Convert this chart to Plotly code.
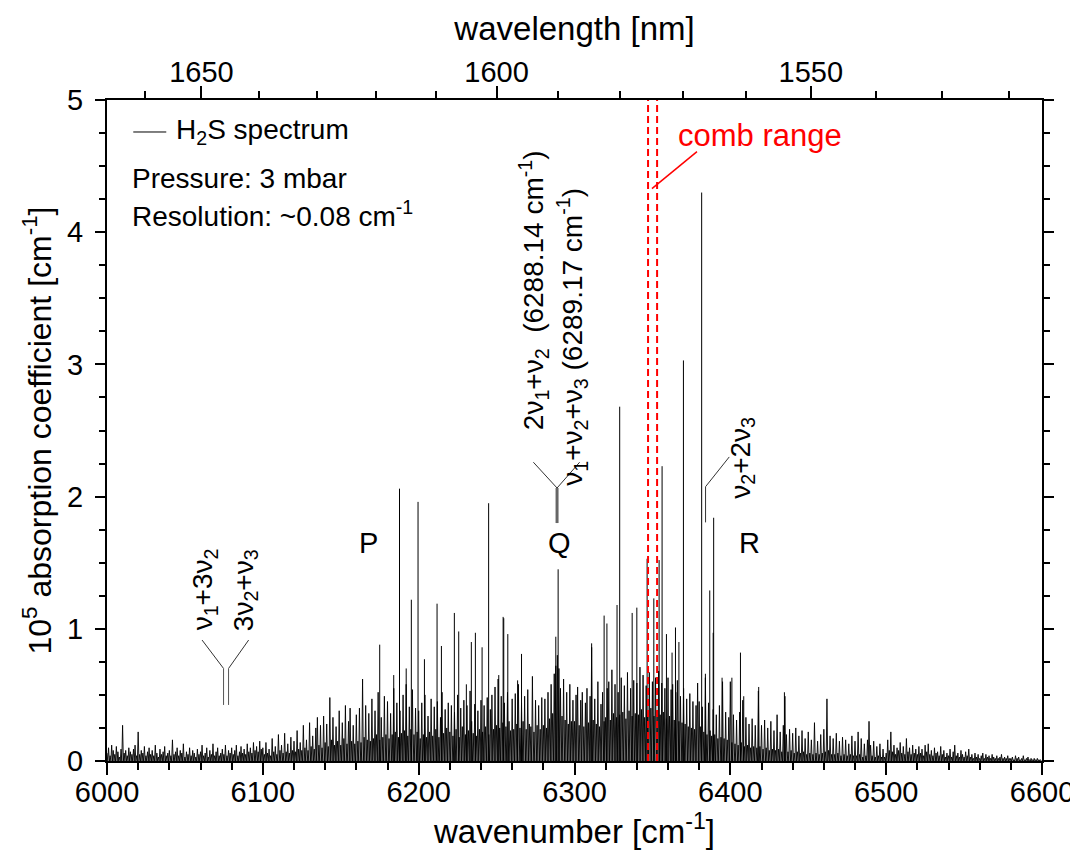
import plotly.graph_objects as go

# ---------------- data ----------------
# background line intensities on a 1 cm^-1 grid, 6000 ... 6599 cm^-1 (10^5 absorption coefficient, cm^-1)
bg_start = 6000
bg_rows = [
    [0.06,0.10,0.04,0.12,0.08,0.05,0.11,0.07,0.03,0.09,0.27,0.06,0.08,0.04,0.10,0.07,0.05,0.09,0.12,0.04],
    [0.22,0.05,0.08,0.06,0.11,0.04,0.07,0.10,0.05,0.08,0.04,0.12,0.06,0.03,0.09,0.05,0.07,0.11,0.04,0.06],
    [0.08,0.04,0.16,0.05,0.07,0.10,0.04,0.08,0.06,0.13,0.03,0.07,0.05,0.10,0.04,0.08,0.06,0.03,0.09,0.05],
    [0.07,0.12,0.04,0.06,0.10,0.03,0.08,0.05,0.13,0.04,0.07,0.10,0.04,0.06,0.09,0.05,0.12,0.04,0.08,0.06],
    [0.10,0.05,0.08,0.12,0.04,0.07,0.11,0.06,0.09,0.05,0.13,0.07,0.10,0.06,0.14,0.08,0.11,0.07,0.15,0.09],
    [0.10,0.05,0.14,0.06,0.09,0.04,0.17,0.07,0.11,0.05,0.20,0.08,0.12,0.06,0.21,0.07,0.13,0.06,0.18,0.08],
    [0.15,0.07,0.23,0.09,0.14,0.08,0.27,0.10,0.16,0.08,0.29,0.11,0.19,0.09,0.25,0.33,0.12,0.27,0.10,0.34],
    [0.14,0.28,0.11,0.48,0.16,0.33,0.12,0.26,0.15,0.38,0.12,0.29,0.17,0.42,0.13,0.30,0.40,0.15,0.27,0.13],
    [0.35,0.15,0.40,0.14,0.62,0.18,0.42,0.16,0.36,0.15,0.47,0.17,0.38,0.20,0.52,0.16,0.33,0.18,0.49,0.20],
    [0.45,0.17,0.36,0.20,0.55,0.22,0.44,0.18,0.38,0.21,0.50,0.23,0.58,0.19,0.41,0.24,0.54,0.20,0.40,0.22],
    [0.38,0.17,0.44,0.20,0.50,0.18,0.34,0.22,0.47,0.19,0.41,0.24,0.45,0.18,0.33,0.52,0.21,0.39,0.25,0.44],
    [0.22,0.42,0.19,0.37,0.24,0.50,0.18,0.40,0.26,0.46,0.20,0.42,0.23,0.53,0.30,0.21,0.43,0.19,0.38,0.24],
    [0.46,0.22,0.42,0.26,0.48,0.20,0.39,0.50,0.24,0.56,0.27,0.62,0.25,0.49,0.29,0.44,0.26,0.52,0.30,0.23],
    [0.47,0.24,0.51,0.28,0.58,0.25,0.44,0.30,0.49,0.24,0.54,0.28,0.26,0.64,0.22,0.46,0.27,0.42,0.24,0.48],
    [0.27,0.47,0.25,0.52,0.32,0.58,0.36,0.66,0.72,0.80,0.70,0.55,0.34,0.62,0.31,0.52,0.28,0.58,0.30,0.46],
    [0.30,0.50,0.56,0.27,0.46,0.52,0.26,0.44,0.55,0.29,0.49,0.86,0.31,0.47,0.28,0.60,0.26,0.43,0.52,0.30],
    [0.33,0.55,0.60,0.31,0.69,0.36,0.58,0.33,0.52,0.35,0.63,0.37,0.57,0.32,0.67,0.38,0.55,0.34,0.61,0.36],
    [0.59,0.35,0.71,0.39,0.65,0.33,0.57,0.37,0.67,0.40,0.60,0.34,0.63,0.38,0.68,0.35,0.59,0.37,0.55,0.32],
    [0.63,0.34,0.54,0.58,0.31,0.52,0.61,0.30,0.49,0.29,0.55,0.28,0.47,0.26,0.51,0.25,0.45,0.24,0.42,0.59],
    [0.45,0.26,0.41,0.22,0.63,0.20,0.44,0.23,0.19,0.39,0.20,0.35,0.17,0.42,0.18,0.60,0.17,0.37,0.16,0.33],
    [0.60,0.14,0.35,0.13,0.31,0.12,0.37,0.14,0.46,0.11,0.33,0.12,0.28,0.10,0.32,0.11,0.27,0.10,0.53,0.11],
    [0.27,0.09,0.31,0.10,0.25,0.08,0.30,0.09,0.23,0.08,0.35,0.09,0.22,0.07,0.27,0.49,0.20,0.07,0.24,0.08],
    [0.21,0.06,0.25,0.07,0.19,0.06,0.23,0.07,0.17,0.05,0.22,0.06,0.16,0.05,0.29,0.06,0.15,0.05,0.20,0.06],
    [0.24,0.07,0.47,0.08,0.19,0.05,0.17,0.05,0.21,0.06,0.15,0.04,0.18,0.05,0.16,0.04,0.13,0.05,0.19,0.04],
    [0.15,0.04,0.22,0.05,0.17,0.03,0.13,0.04,0.16,0.30,0.12,0.04,0.15,0.03,0.11,0.04,0.13,0.03,0.09,0.03],
    [0.06,0.16,0.08,0.22,0.07,0.12,0.05,0.10,0.08,0.14,0.06,0.11,0.05,0.17,0.07,0.10,0.05,0.12,0.06,0.09],
    [0.05,0.11,0.06,0.09,0.04,0.12,0.07,0.13,0.05,0.08,0.04,0.10,0.06,0.07,0.04,0.11,0.05,0.08,0.03,0.06],
    [0.04,0.09,0.03,0.07,0.12,0.04,0.06,0.03,0.08,0.05,0.03,0.07,0.04,0.09,0.03,0.05,0.02,0.06,0.03,0.05],
    [0.02,0.04,0.06,0.02,0.05,0.03,0.04,0.02,0.05,0.03,0.02,0.04,0.02,0.03,0.05,0.02,0.03,0.02,0.04,0.02],
    [0.02,0.03,0.01,0.04,0.02,0.03,0.01,0.02,0.04,0.01,0.02,0.03,0.01,0.02,0.01,0.02,0.01,0.02,0.01,0.01],
]

# strong individual lines
strong_nu = [6175.0, 6184.0, 6187.7, 6192.0, 6195.3, 6199.6, 6203.7, 6211.8, 6214.6, 6222.9,
             6225.7, 6230.6, 6233.8, 6236.4, 6240.7, 6244.9, 6251.4, 6254.2, 6254.6, 6257.2,
             6263.5, 6266.0, 6288.0, 6289.5, 6311.0, 6319.0, 6320.8, 6327.3, 6329.0, 6337.0,
             6340.0, 6346.6, 6350.9, 6354.3, 6356.2, 6359.0, 6362.6, 6364.8, 6367.0, 6369.9,
             6381.6, 6384.0, 6386.8, 6389.0, 6389.3, 6394.7, 6401.0, 6406.5, 6408.6, 6418.2, 6434.7]
strong_h = [0.88, 0.65, 2.06, 0.70, 1.22, 1.96, 0.77, 1.19, 0.87, 1.12,
            0.98, 0.58, 0.90, 0.97, 0.86, 1.95, 0.65, 1.09, 1.08, 0.96,
            0.61, 0.81, 0.94, 1.45, 0.89, 1.10, 1.04, 1.18, 2.68, 1.12,
            1.16, 1.53, 1.23, 1.52, 2.23, 0.96, 0.82, 1.01, 0.90, 3.03,
            4.30, 0.66, 1.29, 0.97, 1.84, 0.63, 0.63, 0.82, 0.49, 0.56, 0.52]

comb_range = [6347.2, 6353.0]          # cm^-1
wl_major = [1650, 1600, 1550]          # nm, top axis labels
wl_minor = [1660, 1640, 1630, 1620, 1610, 1590, 1580, 1570, 1560, 1540, 1530, 1520]

# ---------------- build traces ----------------
FONT = "Liberation Sans, Arial, sans-serif"

zx, zy = [], []
i = 0
for row in bg_rows:
    for h in row:
        nu = bg_start + i
        zx += [nu, nu + 0.5]
        zy += [h, 0.0]
        i += 1

sx, sy = [], []
for nu, h in zip(strong_nu, strong_h):
    sx += [nu, nu, None]
    sy += [0.0, h, None]

fig = go.Figure()
fig.add_trace(go.Scatter(x=zx, y=zy, mode="lines", name="H2S spectrum",
                         line=dict(color="black", width=0.9, simplify=False),
                         hoverinfo="skip", showlegend=False))
fig.add_trace(go.Scatter(x=sx, y=sy, mode="lines", line=dict(color="black", width=1),
                         hoverinfo="skip", showlegend=False))
# dummy trace for the top (wavelength) axis
fig.add_trace(go.Scatter(x=[6000], y=[0], xaxis="x2", mode="markers",
                         marker=dict(opacity=0), showlegend=False, hoverinfo="skip"))

# comb range dashed lines
for c in comb_range:
    fig.add_shape(type="line", xref="x", yref="y", x0=c, x1=c, y0=0, y1=5,
                  line=dict(color="red", width=2, dash="7px,4px"))
fig.add_shape(type="line", xref="x", yref="y", x0=6349.7, y0=4.33, x1=6378.6, y1=4.61,
              line=dict(color="red", width=1.5))

# legend sample line
fig.add_shape(type="line", xref="paper", yref="paper", x0=0.0281, x1=0.0634, y0=0.9516, y1=0.9516,
              line=dict(color="black", width=1))

# connectors
gray = "#333333"
conn = [
    # Q
    (6273.6, 2.26, 6288.8, 2.065, gray, 1),
    (6303.3, 2.26, 6288.8, 2.065, gray, 1),
    (6288.8, 2.065, 6288.8, 1.80, "#666666", 3),
    # left
    (6061.0, 0.915, 6074.8, 0.70, gray, 1),
    (6090.9, 0.915, 6078.0, 0.70, gray, 1),
    (6074.8, 0.70, 6074.8, 0.424, "#555555", 1),
    (6078.0, 0.70, 6078.0, 0.424, "#555555", 1),
    # right
    (6399.3, 2.30, 6384.1, 2.075, gray, 1),
    (6384.1, 2.075, 6384.1, 1.805, gray, 1),
]
for x0, y0, x1, y1, col, w in conn:
    fig.add_shape(type="line", xref="x", yref="y", x0=x0, y0=y0, x1=x1, y1=y1,
                  line=dict(color=col, width=w))

ann = []
def add_text(x, y, text, size=28, color="black", angle=0, xanchor="center", yanchor="middle",
             xref="x", yref="y"):
    ann.append(dict(x=x, y=y, xref=xref, yref=yref, text=text, showarrow=False,
                    textangle=angle, xanchor=xanchor, yanchor=yanchor,
                    font=dict(family=FONT, size=size, color=color)))

add_text(6167.7, 1.65, "P", size=29)
add_text(6290.3, 1.65, "Q", size=29)
add_text(6412.2, 1.65, "R", size=29)
add_text(6365.3, 4.73, "comb range", size=31, color="red", xanchor="left")

add_text(6273.6, 2.49, "2ν<sub>1</sub>+ν<sub>2</sub>  (6288.14 cm<sup>-1</sup>)", angle=-90, yanchor="bottom")
add_text(6298.6, 2.07, "ν<sub>1</sub>+ν<sub>2</sub>+ν<sub>3</sub> (6289.17 cm<sup>-1</sup>)", angle=-90, yanchor="bottom")
add_text(6062.6, 0.97, "ν<sub>1</sub>+3ν<sub>2</sub>", angle=-90, yanchor="bottom")
add_text(6088.8, 0.97, "3ν<sub>2</sub>+ν<sub>3</sub>", angle=-90, yanchor="bottom")
add_text(6407.6, 1.97, "ν<sub>2</sub>+2ν<sub>3</sub>", angle=-90, yanchor="bottom")

add_text(0.072, 0.9516, "H<sub>2</sub>S spectrum", xref="paper", yref="paper", xanchor="left")
add_text(0.0249, 0.8805, "Pressure: 3 mbar", xref="paper", yref="paper", xanchor="left")
add_text(0.0249, 0.8275, "Resolution: ~0.08 cm<sup>-1</sup>", xref="paper", yref="paper", xanchor="left")

axis_common = dict(showline=True, linecolor="black", linewidth=2, showgrid=False, zeroline=False,
                   ticks="outside", tickcolor="black", tickwidth=2, automargin=False,
                   tickfont=dict(family=FONT, size=29, color="black"))

fig.update_layout(
    width=1078, height=852,
    margin=dict(l=99, r=44, t=92, b=99),
    paper_bgcolor="white", plot_bgcolor="white",
    annotations=ann,
    showlegend=False,
    xaxis=dict(range=[6000, 6600], dtick=100, tick0=6000, ticklen=12, ticklabelstandoff=-8,
               minor=dict(dtick=20, ticklen=7, tickwidth=2, tickcolor="black", ticks="outside"),
               title=dict(text="wavenumber [cm<sup>-1</sup>]",
                          font=dict(family=FONT, size=33, color="black"), standoff=2),
               **axis_common),
    xaxis2=dict(range=[6000, 6600], overlaying="x", side="top", anchor="y",
                tickmode="array", tickvals=[1e7 / w for w in wl_major], ticktext=[str(w) for w in wl_major],
                ticklen=12, ticklabelstandoff=-8,
                minor=dict(tickmode="array", tickvals=[1e7 / w for w in wl_minor], ticklen=7,
                           tickwidth=2, tickcolor="black", ticks="outside"),
                title=dict(text="wavelength [nm]", font=dict(family=FONT, size=33, color="black"), standoff=6),
                **axis_common),
    yaxis=dict(range=[0, 5], dtick=1, tick0=0, ticklen=10, mirror="ticks",
               minor=dict(dtick=0.25, ticklen=6, tickwidth=2, tickcolor="black", ticks="outside"),
               title=dict(text="10<sup>5</sup> absorption coefficient [cm<sup>-1</sup>]",
                          font=dict(family=FONT, size=32, color="black"), standoff=6),
               ticklabelstandoff=6,
               **axis_common),
)

fig.write_html("out.html")
